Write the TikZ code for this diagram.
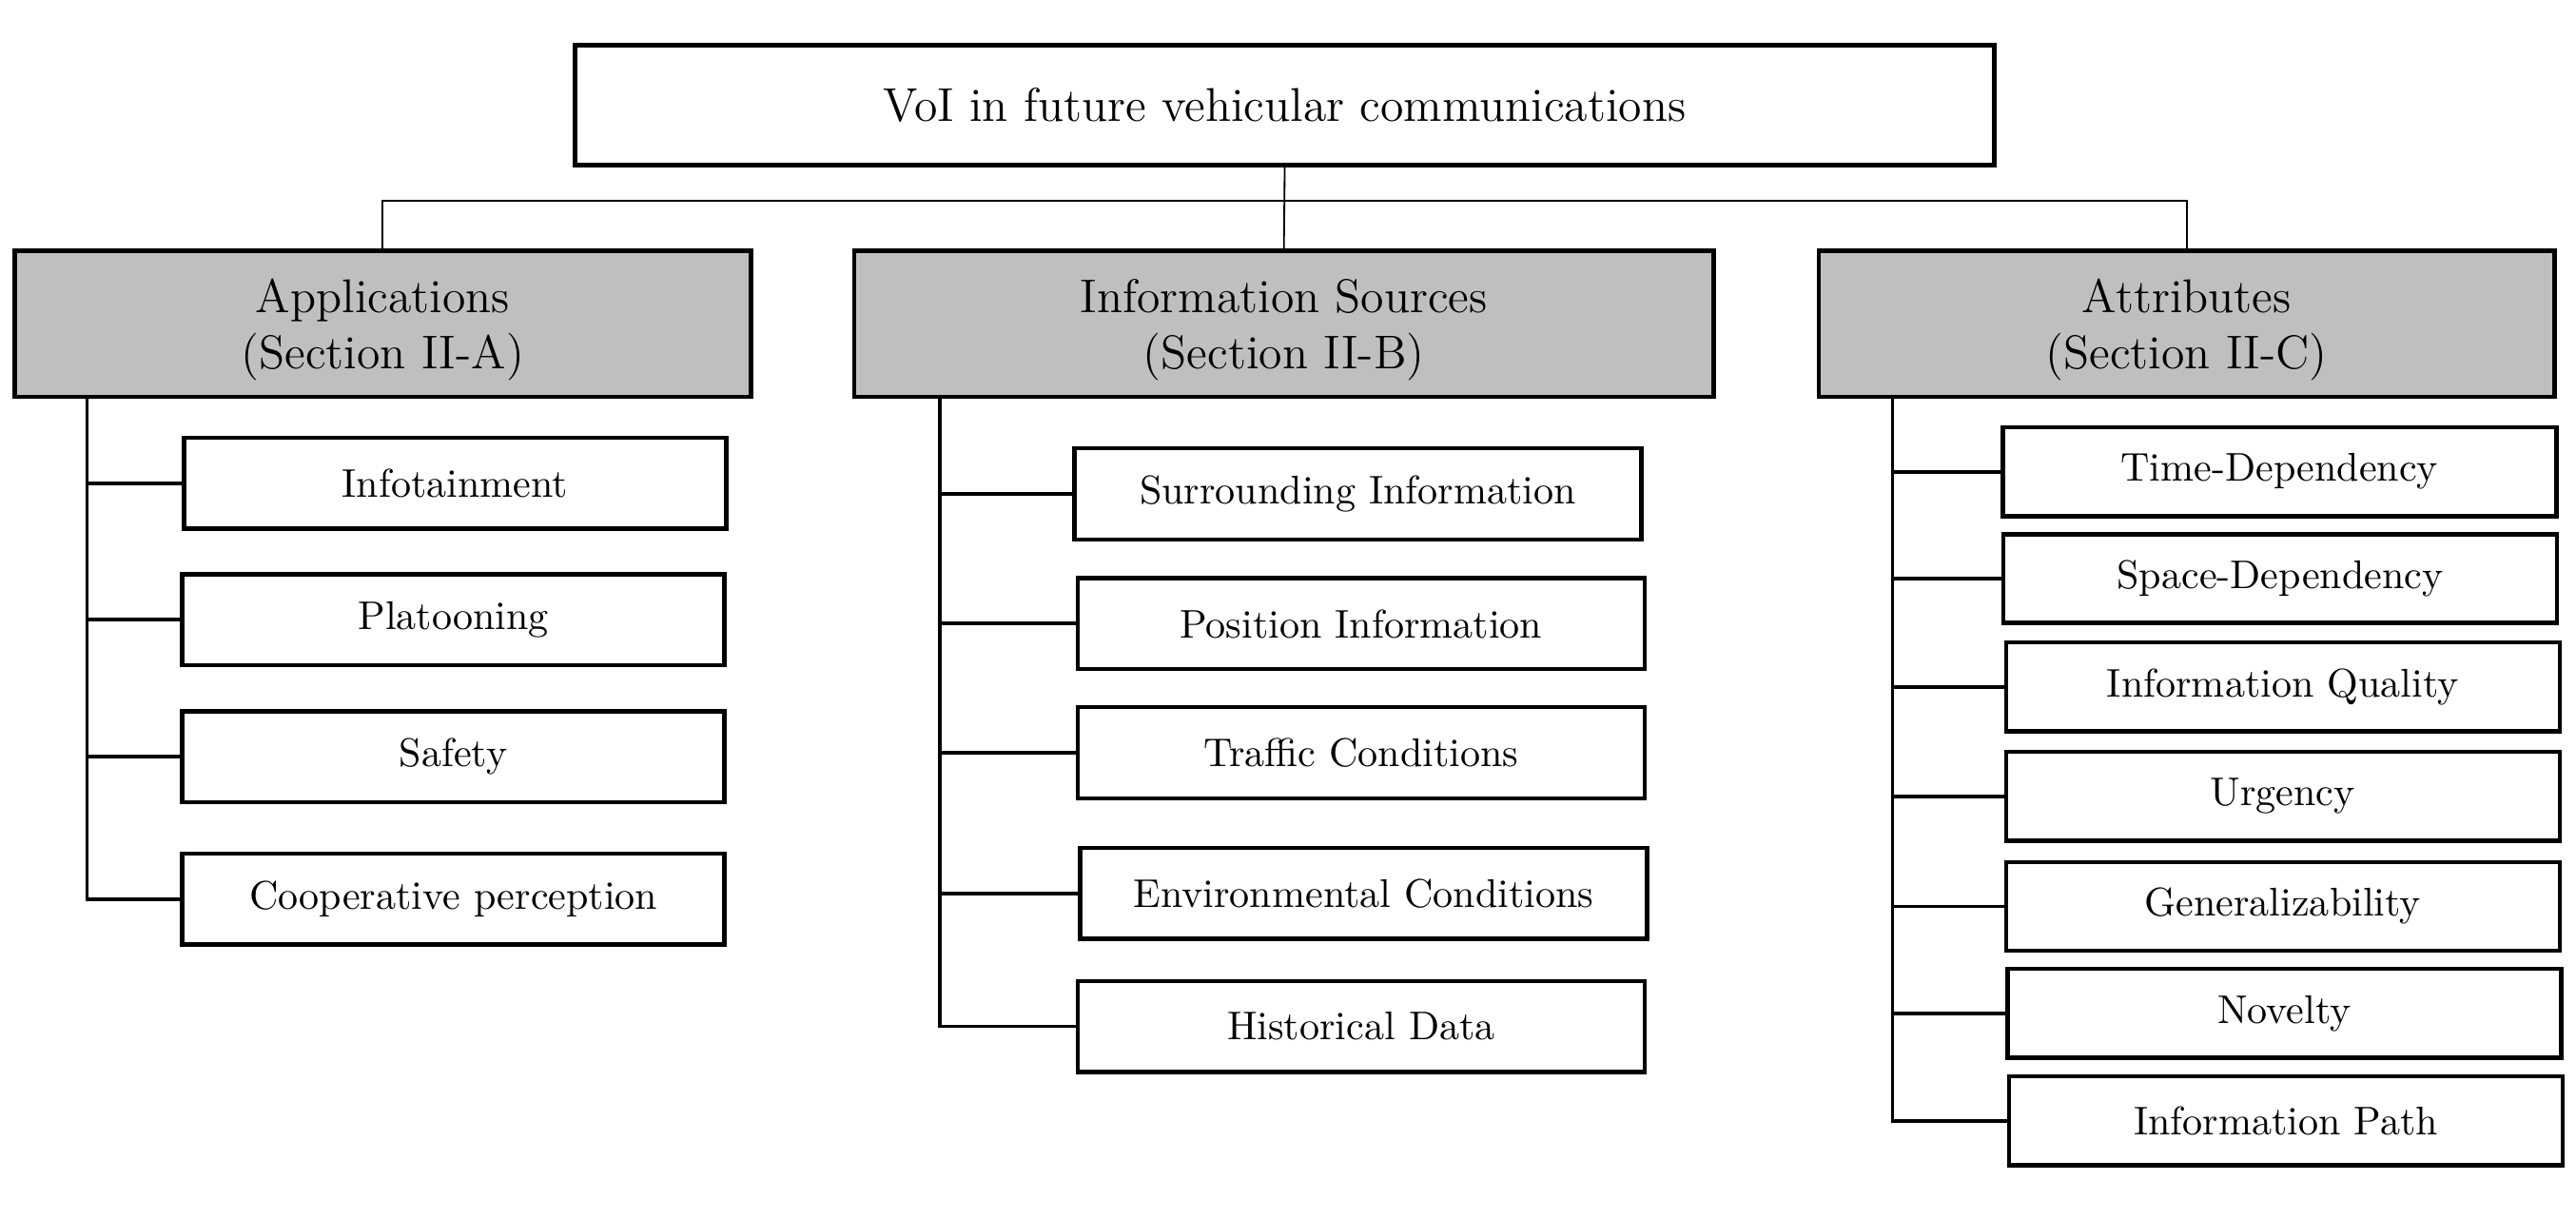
\documentclass[tikz,border=0pt]{standalone}
\usepackage{xcolor}
\usepackage{tikz}
\definecolor{headgray}{HTML}{BFBFBF}

\tikzset{
  topbox/.style={draw,line width=1.1pt,minimum width=12.96cm,minimum height=1.095cm,font=\fontsize{12.3}{14.5}\selectfont},
  headbox/.style={draw,line width=1.1pt,fill=headgray,minimum height=1.335cm,align=center,text depth=0pt,font=\fontsize{12.3}{14.5}\selectfont},
  leafbox/.style={draw,line width=1.1pt,minimum height=0.83cm,font=\fontsize{10.4}{12.5}\selectfont},
  link/.style={line width=.45pt},
  branch/.style={line width=.95pt}
}

\begin{document}
\begin{tikzpicture}[x=0.015cm,y=-0.015cm]
  \useasboundingbox (0,0) rectangle (1568,742);

  \node[topbox] (voi) at (782,64) {VoI in future vehicular communications};

  \node[headbox,minimum width=6.72cm] (app) at (233,197) {Applications\\(Section II-A)};
  \node[headbox,minimum width=7.845cm] (src) at (781.5,197) {Information Sources\\(Section II-B)};
  \node[headbox,minimum width=6.72cm] (attr) at (1331,197) {Attributes\\(Section II-C)};

  % applications
  \node[leafbox,minimum width=4.95cm] (a1) at (277,294) {Infotainment};
  \node[leafbox,minimum width=4.95cm] (a2) at (276,377) {Platooning};
  \node[leafbox,minimum width=4.95cm] (a3) at (276,460.5) {Safety};
  \node[leafbox,minimum width=4.95cm] (a4) at (276,547) {Cooperative perception};

  % information sources
  \node[leafbox,minimum width=5.175cm] (s1) at (826.5,300.5) {Surrounding Information};
  \node[leafbox,minimum width=5.175cm] (s2) at (828.5,379.5) {Position Information};
  \node[leafbox,minimum width=5.175cm] (s3) at (828.5,458) {Traffic Conditions};
  \node[leafbox,minimum width=5.175cm] (s4) at (830,543.5) {Environmental Conditions};
  \node[leafbox,minimum width=5.175cm] (s5) at (828.5,624.5) {Historical Data};

  % attributes
  \node[leafbox,minimum width=5.055cm,minimum height=0.81cm] (t1) at (1387.5,287) {Time-Dependency};
  \node[leafbox,minimum width=5.055cm,minimum height=0.81cm] (t2) at (1388,352) {Space-Dependency};
  \node[leafbox,minimum width=5.055cm,minimum height=0.81cm] (t3) at (1389.5,418) {Information Quality};
  \node[leafbox,minimum width=5.055cm,minimum height=0.81cm] (t4) at (1389.5,484.5) {Urgency};
  \node[leafbox,minimum width=5.055cm,minimum height=0.81cm] (t5) at (1389.5,551.5) {Generalizability};
  \node[leafbox,minimum width=5.055cm,minimum height=0.81cm] (t6) at (1390.5,616.5) {Novelty};
  \node[leafbox,minimum width=5.055cm,minimum height=0.81cm] (t7) at (1391.5,682) {Information Path};

  % top level
  \coordinate (hub) at (782,122);
  \draw[link] (app.north) |- (hub) -| (attr.north);
  \draw[link] (voi.south) -- (src.north);

  % trunks
  \coordinate (atrunk) at (53,241);
  \coordinate (strunk) at (572,241);
  \coordinate (ttrunk) at (1152,241);
  \foreach \c in {a1,a2,a3,a4}
    \draw[branch] (atrunk) |- (\c.west);
  \foreach \c in {s1,s2,s3,s4,s5}
    \draw[branch] (strunk) |- (\c.west);
  \foreach \c in {t1,t2,t3,t4,t5,t6,t7}
    \draw[branch] (ttrunk) |- (\c.west);
\end{tikzpicture}
\end{document}
